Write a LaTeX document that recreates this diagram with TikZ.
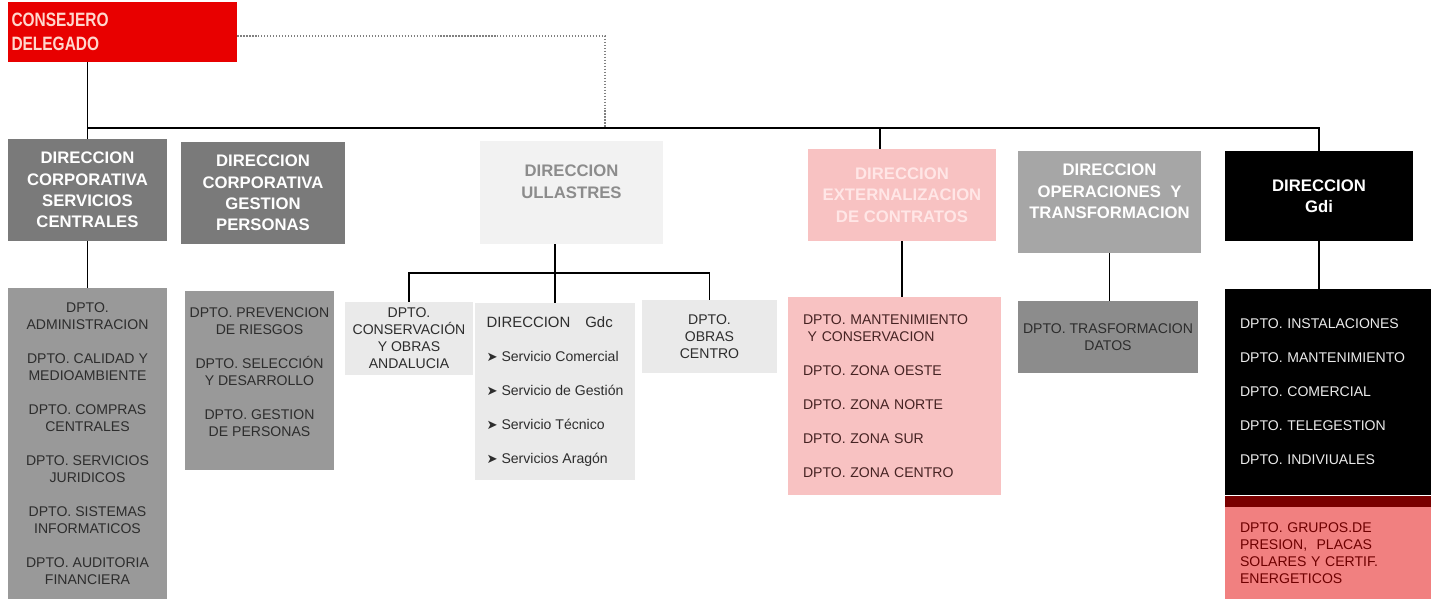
\documentclass[tikz,border=0pt]{standalone}
\usepackage{fontspec}
\setmainfont{Liberation Sans}
\newfontfamily\narrowfont[FakeStretch=0.8]{Liberation Sans}
\newfontfamily\symfont{DejaVu Sans}
\usepackage{tikz}
\usetikzlibrary{positioning}
\usepackage{xcolor}
\definecolor{cdred}{RGB}{232,0,0}
\definecolor{cdink}{RGB}{255,215,205}
\definecolor{headgray}{RGB}{122,122,122}
\definecolor{deptgray}{RGB}{153,153,153}
\definecolor{ullfill}{RGB}{242,242,242}
\definecolor{ullink}{RGB}{140,140,140}
\definecolor{subfill}{RGB}{234,234,234}
\definecolor{extfill}{RGB}{248,194,194}
\definecolor{extink}{RGB}{255,230,230}
\definecolor{extdink}{RGB}{70,35,35}
\definecolor{opsfill}{RGB}{166,166,166}
\definecolor{opsdept}{RGB}{140,140,140}
\definecolor{gdiband}{RGB}{122,0,0}
\definecolor{gdipink}{RGB}{241,128,128}
\definecolor{gdiink}{RGB}{110,0,0}
\definecolor{ink}{RGB}{45,45,45}
\newcommand{\titlefont}{\fontsize{9.5}{12.2}\selectfont\bfseries}
\newcommand{\deptfont}{\fontsize{8}{9.7}\selectfont}
\newcommand{\gap}{\\[3.4mm]}
\newcommand{\itemarrow}{{\symfont\fontsize{7.5}{8}\selectfont ➤}\ }

\begin{document}
\begin{tikzpicture}[
    head/.style={text=white, font=\titlefont, align=center, inner sep=2pt},
    dept/.style={text=ink, font=\deptfont, align=center, inner sep=2pt},
    link/.style={line width=0.8pt},
    dots/.style={densely dotted, line width=0.7pt, gray}
  ]
    \useasboundingbox (0,0) rectangle (28.68,-11.98);
    \coordinate (bus) at (0,-2.56);
    \coordinate (tap) at (12.1,-2.56);
    \coordinate (split) at (0,-5.46);

    \node[fill=cdred, text=cdink, font=\narrowfont\fontsize{11}{13.6}\selectfont\bfseries, minimum width=4.58cm, minimum height=1.2cm, text width=4.44cm, inner xsep=0.07cm, align=left] (cd) at (2.45,-0.64) {CONSEJERO\\DELEGADO};

    \node[head, fill=headgray, minimum width=3.18cm, minimum height=2.04cm] (dc1) at (1.75,-3.80) {DIRECCION\\CORPORATIVA\\SERVICIOS\\CENTRALES};
    \node[head, fill=headgray, minimum width=3.28cm, minimum height=2.04cm] (dc2) at (5.26,-3.86) {DIRECCION\\CORPORATIVA\\GESTION\\PERSONAS};
    \node[head, fill=ullfill, text=ullink, minimum width=3.66cm, minimum height=2.06cm] (ull) at (11.43,-3.85) {DIRECCION\\ULLASTRES\\\mbox{}};
    \node[head, fill=extfill, text=extink, minimum width=3.76cm, minimum height=1.84cm] (ext) at (18.04,-3.90) {DIRECCION\\EXTERNALIZACION\\DE CONTRATOS};
    \node[head, fill=opsfill, minimum width=3.66cm, minimum height=2.04cm] (ops) at (22.19,-4.04) {DIRECCION\\OPERACIONES~~Y\\TRANSFORMACION\\\mbox{}};
    \node[head, fill=black, minimum width=3.76cm, minimum height=1.80cm] (gdi) at (26.38,-3.92) {DIRECCION\\Gdi};

    \node[dept, fill=deptgray, minimum width=3.18cm, minimum height=6.22cm] (dpt1) at (1.75,-8.87) {DPTO.\\ADMINISTRACION\gap DPTO. CALIDAD Y\\MEDIOAMBIENTE\gap DPTO. COMPRAS\\CENTRALES\gap DPTO. SERVICIOS\\JURIDICOS\gap DPTO. SISTEMAS\\INFORMATICOS\gap DPTO. AUDITORIA\\FINANCIERA};
    \node[dept, fill=deptgray, minimum width=2.98cm, minimum height=3.58cm] (dpt2) at (5.19,-7.61) {DPTO. PREVENCION\\DE RIESGOS\gap DPTO. SELECCIÓN\\Y DESARROLLO\gap DPTO. GESTION\\DE PERSONAS\\\mbox{}};
    \node[dept, fill=subfill, minimum width=2.56cm, minimum height=1.46cm] (cons) at (8.18,-6.77) {DPTO.\\CONSERVACIÓN\\Y OBRAS\\ANDALUCIA};
    \node[dept, fill=subfill, minimum width=3.2cm, minimum height=3.54cm, align=left] (gdc) at (11.10,-7.83) {{\fontsize{8.5}{9.7}\selectfont DIRECCION\quad Gdc}\gap \itemarrow Servicio Comercial\gap \itemarrow Servicio de Gestión\gap \itemarrow Servicio Técnico\gap \itemarrow Servicios Aragón};
    \node[dept, fill=subfill, minimum width=2.7cm, minimum height=1.46cm] (obras) at (14.19,-6.73) {DPTO.\\OBRAS\\CENTRO};
    \node[dept, fill=extfill, text=extdink, minimum width=4.26cm, minimum height=3.96cm, text width=3.66cm, inner xsep=0.3cm, align=left] (extdpt) at (17.89,-7.92) {DPTO. MANTENIMIENTO\\\ Y CONSERVACION\gap DPTO. ZONA OESTE\gap DPTO. ZONA NORTE\gap DPTO. ZONA SUR\gap DPTO. ZONA CENTRO};
    \node[dept, fill=opsdept, minimum width=3.6cm, minimum height=1.44cm] (opsdpt) at (22.16,-6.74) {DPTO. TRASFORMACION\\DATOS};
    \node[dept, fill=black, text=white!92!black, minimum width=4.12cm, minimum height=4.12cm, text width=3.52cm, inner xsep=0.3cm, align=left] (gdidpt) at (26.56,-7.84) {DPTO. INSTALACIONES\gap DPTO. MANTENIMIENTO\gap DPTO. COMERCIAL\gap DPTO. TELEGESTION\gap DPTO. INDIVIUALES};
    \node[fill=gdiband, minimum width=4.12cm, minimum height=0.22cm, inner sep=0pt, below=0pt of gdidpt] (gdibar) {};
    \node[dept, fill=gdipink, text=gdiink, minimum width=4.12cm, minimum height=1.84cm, text width=3.52cm, inner xsep=0.3cm, align=left, below=0pt of gdibar] (gdigrp) {DPTO. GRUPOS.DE\\PRESION,~~PLACAS\\SOLARES Y CERTIF.\\ENERGETICOS};

    \draw[link] (cd.south -| dc1.north) -- (dc1.north);
    \draw[link] (dc1.north |- bus) -- (gdi.north |- bus) -- (gdi.north);
    \draw[link] ([xshift=-0.44cm]ext.north |- bus) -- ([xshift=-0.44cm]ext.north);
    \draw[dots] ([yshift=-0.08cm]cd.east) -| (tap);
    \draw[link] (dc1.south) -- (dpt1.north);
    \draw[link] (ull.south -| gdc.north) -- (gdc.north);
    \draw[link] (cons.north) -- (cons.north |- split) -- (obras.north |- split) -- (obras.north);
    \draw[link] (ext.south) -- (ext.south |- extdpt.north);
    \draw[link] (ops.south) -- (ops.south |- opsdpt.north);
    \draw[link] (gdi.south) -- (gdi.south |- gdidpt.north);
  \end{tikzpicture}
\end{document}
